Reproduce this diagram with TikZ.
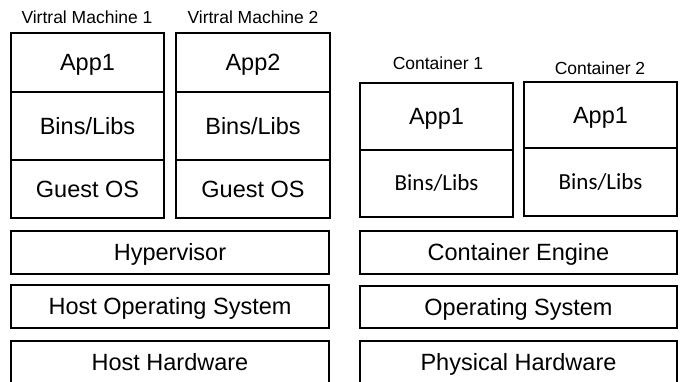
\documentclass[tikz,border=0pt]{standalone}
\usepackage{fontspec}
\setmainfont{Liberation Sans}
\newfontfamily\calibfont{Carlito}
\begin{document}
\begin{tikzpicture}[x=1pt,y=-1pt,
  cell/.style={draw=black, line width=1.2pt, rectangle, inner sep=0pt,
    font=\fontsize{23.5}{26}\selectfont, text height=16.8pt, text depth=0pt},
  libcell/.style={cell, font=\calibfont\fontsize{23}{26}\selectfont, text height=14.8pt},
  layer/.style={cell, minimum width=318pt, minimum height=43pt},
  title/.style={font=\fontsize{17.5}{20}\selectfont, inner sep=0pt,
    text height=12.5pt, text depth=0pt}]
\useasboundingbox (0,0) rectangle (680,381);

% virtual machine stacks
\node[cell, minimum width=153pt, minimum height=59pt] (vm1app) at (87.5,62.5) {App1};
\node[cell, minimum width=153pt, minimum height=68pt] (vm1bin) at (87.5,126) {Bins/Libs};
\node[cell, minimum width=153pt, minimum height=58pt] (vm1os) at (87.5,189) {Guest OS};
\node[cell, minimum width=154pt, minimum height=59pt] (vm2app) at (253,62.5) {App2};
\node[cell, minimum width=154pt, minimum height=68pt] (vm2bin) at (253,126) {Bins/Libs};
\node[cell, minimum width=154pt, minimum height=58pt] (vm2os) at (253,189) {Guest OS};
\node[title] (vm1t) at (87,17) {Virtral Machine 1};
\node[title] (vm2t) at (253,17) {Virtral Machine 2};

% container stacks
\node[cell, minimum width=153pt, minimum height=67pt] (c1app) at (436.5,116.5) {App1};
\node[libcell, minimum width=153pt, minimum height=67pt] (c1bin) at (436.5,183.5) {Bins/Libs};
\node[cell, minimum width=153pt, minimum height=66pt] (c2app) at (600.5,115) {App1};
\node[libcell, minimum width=153pt, minimum height=68pt] (c2bin) at (600.5,182) {Bins/Libs};
\node[title] (c1t) at (438,63) {Container 1};
\node[title] (c2t) at (600,68) {Container 2};

% shared layers
\node[layer] (hyp) at (170,252.5) {Hypervisor};
\node[layer] (hos) at (170,306.5) {Host Operating System};
\node[layer] (hhw) at (170,362.5) {Host Hardware};
\node[layer, minimum width=317pt] (eng) at (518.5,252.5) {Container Engine};
\node[layer, minimum width=317pt, minimum height=42pt] (os) at (518.5,307) {Operating System};
\node[layer, minimum width=317pt] (phw) at (518.5,362.5) {Physical Hardware};
\end{tikzpicture}
\end{document}
